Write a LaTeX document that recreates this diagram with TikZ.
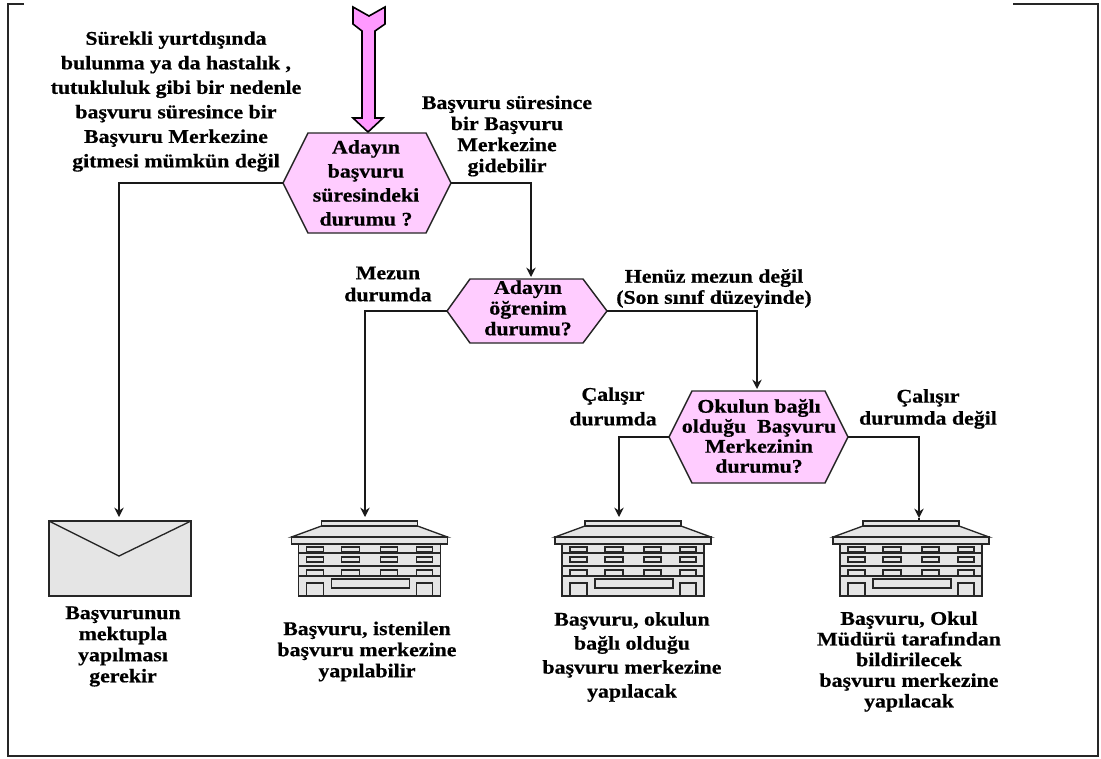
\documentclass[tikz,border=0pt]{standalone}
\usepackage{fontspec}
\setmainfont[FakeStretch=1.13,BoldFeatures={FakeBold=0.6}]{Liberation Serif}
\usetikzlibrary{arrows.meta}
\definecolor{hexpink}{RGB}{255,204,255}
\definecolor{arrowpink}{RGB}{255,153,255}
\definecolor{icongray}{RGB}{229,229,229}
\tikzset{x=0.75pt,y=-0.75pt,
 frameline/.style={line width=2pt,black!85},
 hexa/.style={draw=black!85,fill=hexpink,line width=1.1pt,line join=miter},
 bigarrow/.style={draw=black,fill=arrowpink,line width=1.2pt,line join=miter},
 lbl/.style={align=center,font=\bfseries\fontsize{14.5}{#1}\selectfont,inner sep=0pt,text=black},
 lbl/.default=15.5,
 conn/.style={line width=1.2pt,black!90},
 arr/.style={conn,-{Stealth[length=7pt,width=7pt]}},
 icon/.style={draw=black!85,fill=icongray,line width=1pt},
 iconline/.style={black!85,line width=1pt}}
\newcommand{\building}[2]{%
 \begin{scope}[shift={(#1,#2)}]
  \path[icon] (-48,5) -- (-78,16) -- (78,16) -- (48,5) -- cycle;
  \path[icon] (-48,0) rectangle (48,5);
  \path[icon] (-71,23) rectangle (71,75);
  \path[icon] (-78,16) rectangle (78,23);
  \draw[iconline] (-71,32) -- (71,32) (-71,45) -- (71,45) (-71,55) -- (71,55);
  \foreach \wa/\wb in {-63/-46,-28/-10,11/28,47/63}{
   \path[icon] (\wa,26) rectangle (\wb,31);
   \path[icon] (\wa,36) rectangle (\wb,41);
   \path[icon] (\wa,49) rectangle (\wb,55);
  }
  \path[icon] (-38,58) rectangle (40,67);
  \path[icon] (-63,62) rectangle (-46,75);
  \path[icon] (47,62) rectangle (63,75);
 \end{scope}}
\begin{document}
\begin{tikzpicture}
\useasboundingbox (0,0) rectangle (1101,758);
% frame
\coordinate (ftl) at (24,4); \coordinate (ftc) at (8,4); \coordinate (fbl) at (8,756);
\coordinate (fbr) at (1098,756); \coordinate (ftr) at (1098,4); \coordinate (fte) at (1013,4);
\draw[frameline] (ftl) -- (ftc) -- (fbl) -- (fbr) -- (ftr) -- (fte);
% entry arrow
\path[bigarrow] (353,7) -- (369,16) -- (385,7) -- (385,24) -- (375,31) -- (375,118) -- (383,118)
  -- (368,132) -- (353,118) -- (362,118) -- (362,31) -- (353,24) -- cycle;
% hexagons
\path[hexa] (283,183) coordinate (h1l) -- (308,133) -- (426,133) -- (451,183) coordinate (h1r) -- (426,233) -- (308,233) -- cycle;
\path[hexa] (447,311) coordinate (h2l) -- (470,279) -- (583,279) -- (607,311) coordinate (h2r) -- (583,343) -- (470,343) -- cycle;
\path[hexa] (669,437) coordinate (h3l) -- (692,391) -- (825,391) -- (848,437) coordinate (h3r) -- (825,483) -- (692,483) -- cycle;
% targets
\coordinate (t2) at (531,277);
\coordinate (t3) at (757,389);
\coordinate (te) at (119,517);
\coordinate (tb1) at (365,517);
\coordinate (tb2) at (619,517);
\coordinate (tb3) at (919,518);
% connectors
\draw[arr] (h1l) -| (te);
\draw[arr] (h1r) -| (t2);
\draw[arr] (h2l) -| (tb1);
\draw[arr] (h2r) -| (t3);
\draw[arr] (h3l) -| (tb2);
\draw[arr] (h3r) -| (tb3);
\draw[conn] (tb3) -- +(0,4);
% envelope
\path[icon,line width=1.3pt] (49,521) rectangle (191,596);
\draw[iconline] (49,521) -- (119,556) -- (191,521);
% buildings
\building{369.5}{521}
\building{633}{521}
\building{911}{521}
% texts
\node[lbl=18.4] (q1a) at (176,101.5) {Sürekli yurtdışında\\bulunma ya da hastalık ,\\tutukluluk gibi bir nedenle\\başvuru süresince bir\\Başvuru Merkezine\\gitmesi mümkün değil};
\node[lbl=15.8] (q1b) at (507,136) {Başvuru süresince\\bir Başvuru\\Merkezine\\gidebilir};
\node[lbl=18] (h1t) at (366,183) {Adayın\\başvuru\\süresindeki\\durumu ?};
\node[lbl=16.5] (q2a) at (388,284) {Mezun\\durumda};
\node[lbl=15.5] (h2t) at (528,308) {Adayın\\öğrenim\\durumu?};
\node[lbl=15.8] (q2b) at (714,288.5) {Henüz mezun değil\\(Son sınıf düzeyinde)};
\node[lbl=18.5] (q3a) at (613,406.5) {Çalışır\\durumda};
\node[lbl=15] (h3t) at (759,436) {Okulun bağlı\\olduğu\ \ Başvuru\\Merkezinin\\durumu?};
\node[lbl=16.5] (q3b) at (928,409) {Çalışır\\durumda değil};
\node[lbl=15.8] (r1) at (123,646.5) {Başvurunun\\mektupla\\yapılması\\gerekir};
\node[lbl=15.8] (r2) at (367,651.5) {Başvuru, istenilen\\başvuru merkezine\\yapılabilir};
\node[lbl=18] (r3) at (632,657) {Başvuru, okulun\\bağlı olduğu\\başvuru merkezine\\yapılacak};
\node[lbl=15.5] (r4) at (909,661.5) {Başvuru, Okul\\Müdürü tarafından\\bildirilecek\\başvuru merkezine\\yapılacak};
\end{tikzpicture}
\end{document}
